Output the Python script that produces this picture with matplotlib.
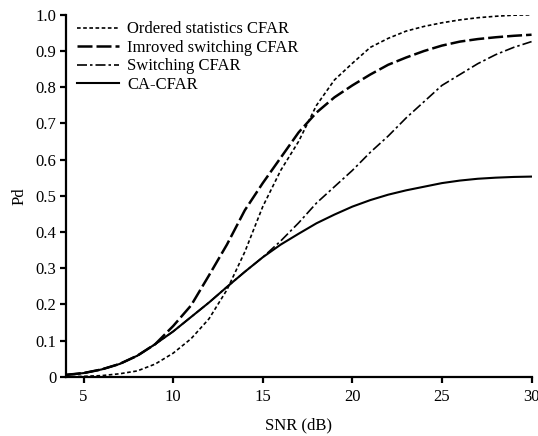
import matplotlib
matplotlib.use("Agg")
import matplotlib.pyplot as plt
import numpy as np

plt.rcParams['font.family'] = ['Liberation Serif', 'DejaVu Serif']
plt.rcParams['font.size'] = 12

snr = np.arange(4, 31)

# Pd values, one per dB from 4 to 30
pd_os = [0.0, 0.001, 0.003, 0.008, 0.016, 0.035, 0.065, 0.105, 0.16, 0.24,
         0.345, 0.47, 0.57, 0.65, 0.75, 0.82, 0.866, 0.91, 0.935, 0.955,
         0.968, 0.978, 0.986, 0.992, 0.996, 0.999, 1.0]
pd_imp = [0.005, 0.01, 0.02, 0.035, 0.058, 0.09, 0.14, 0.197, 0.28, 0.365,
          0.46, 0.535, 0.605, 0.675, 0.73, 0.772, 0.805, 0.835, 0.862, 0.882,
          0.9, 0.915, 0.926, 0.933, 0.938, 0.942, 0.945]
pd_sw = [0.005, 0.01, 0.02, 0.035, 0.058, 0.09, 0.125, 0.165, 0.205, 0.248,
         0.29, 0.33, 0.375, 0.425, 0.48, 0.525, 0.57, 0.62, 0.665, 0.715,
         0.76, 0.805, 0.835, 0.865, 0.89, 0.91, 0.926]
pd_ca = [0.005, 0.01, 0.02, 0.035, 0.058, 0.09, 0.125, 0.165, 0.205, 0.248,
         0.29, 0.33, 0.365, 0.395, 0.424, 0.448, 0.47, 0.488, 0.503, 0.515,
         0.525, 0.535, 0.542, 0.547, 0.55, 0.552, 0.553]

fig = plt.figure(figsize=(5.38, 4.36), dpi=100)
ax = fig.add_axes([0.122, 0.136, 0.866, 0.830])

ax.plot(snr, pd_os, color='black', lw=1.2, linestyle=(0, (2.2, 1.5)),
        label='Ordered statistics CFAR')
ax.plot(snr, pd_imp, color='black', lw=1.8, linestyle=(0, (6, 1.6)),
        label='Imroved switching CFAR')
ax.plot(snr, pd_sw, color='black', lw=1.2, linestyle=(0, (6, 1.8, 1.5, 1.8)),
        label='Switching CFAR')
ax.plot(snr, pd_ca, color='black', lw=1.5, linestyle='-', label='CA-CFAR')

ax.set_xlim(4, 30)
ax.set_ylim(0, 1.0)
ax.set_xticks([5, 10, 15, 20, 25, 30])
ax.set_yticks(np.arange(0, 1.01, 0.1))
ax.set_yticklabels(['0'] + ['%.1f' % v for v in np.arange(0.1, 1.01, 0.1)])
ax.spines['top'].set_visible(False)
ax.spines['right'].set_visible(False)
for s in ['left', 'bottom']:
    ax.spines[s].set_linewidth(1.6)
ax.tick_params(direction='out', length=4.5, width=1.6)
ax.tick_params(axis='x', pad=4)
ax.tick_params(axis='y', pad=2)

ax.set_xlabel('SNR (dB)', labelpad=9)
ax.set_ylabel('Pd', labelpad=6)

ax.legend(loc='upper left', bbox_to_anchor=(0.01, 1.0), frameon=False,
          handlelength=2.5, handletextpad=0.5, labelspacing=0.15,
          borderaxespad=0.0)

fig.savefig('out.png', dpi=100)
